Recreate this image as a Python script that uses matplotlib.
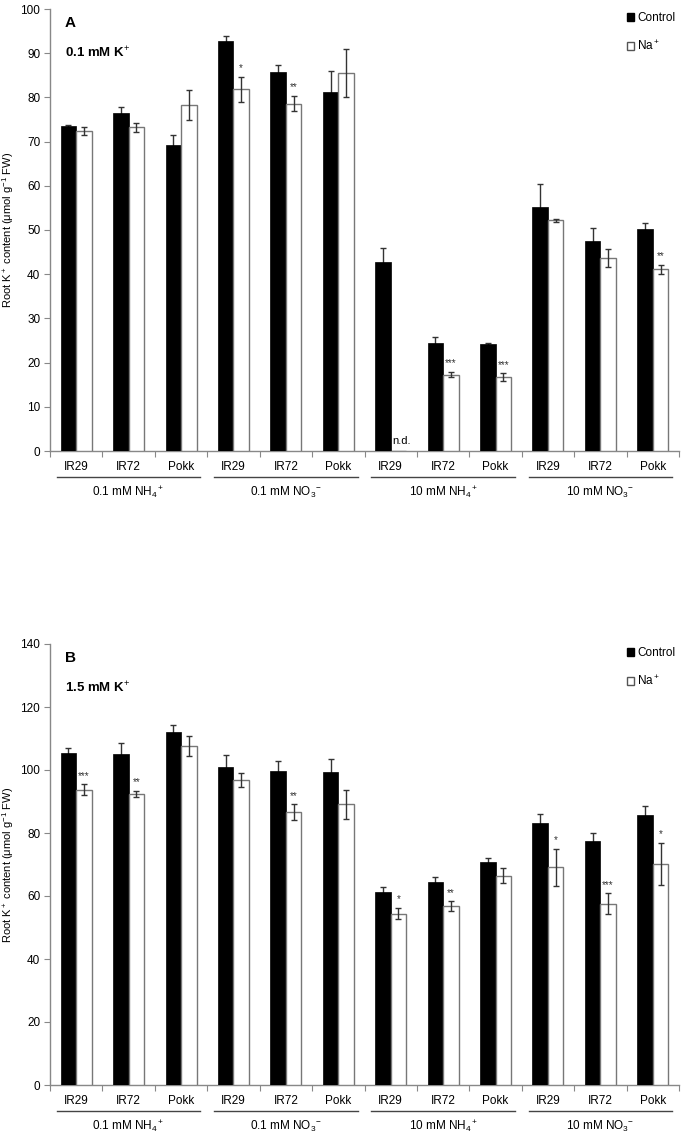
import matplotlib
matplotlib.use('Agg')
import matplotlib.pyplot as plt
import numpy as np
from matplotlib.patches import Patch

plt.rcParams['font.family'] = ['Liberation Sans', 'DejaVu Sans']
plt.rcParams['mathtext.fontset'] = 'custom'
plt.rcParams['mathtext.rm'] = 'Liberation Sans'
plt.rcParams['mathtext.it'] = 'Liberation Sans:italic'
plt.rcParams['mathtext.bf'] = 'Liberation Sans:bold'

# data
cultivars = ['IR29', 'IR72', 'Pokk'] * 4
treatments = ['0.1 mM NH$_4$$^+$', '0.1 mM NO$_3$$^{-}$', '10 mM NH$_4$$^+$', '10 mM NO$_3$$^{-}$']

# panel A: 0.1 mM K+
a_ctrl = [73.5, 76.5, 69.3, 92.8, 85.7, 81.2, 42.8, 24.4, 24.2, 55.3, 47.4, 50.2]
a_ctrl_err = [0.3, 1.4, 2.2, 1.1, 1.6, 4.7, 3.2, 1.4, 0.3, 5.0, 3.0, 1.4]
a_na = [72.3, 73.2, 78.3, 81.8, 78.6, 85.6, 0.0, 17.3, 16.7, 52.2, 43.6, 41.1]
a_na_err = [0.9, 1.0, 3.3, 2.8, 1.7, 5.4, 0.0, 0.6, 0.9, 0.3, 2.0, 1.0]
a_sig = ['', '', '', '*', '**', '', '', '***', '***', '', '', '**']

# panel B: 1.5 mM K+
b_ctrl = [105.3, 105.0, 112.1, 100.9, 99.6, 99.4, 61.4, 64.4, 70.8, 83.3, 77.4, 85.6]
b_ctrl_err = [1.8, 3.5, 2.1, 4.0, 3.2, 4.1, 1.6, 1.5, 1.4, 2.7, 2.7, 3.1]
b_na = [93.7, 92.3, 107.6, 96.9, 86.6, 89.2, 54.4, 56.7, 66.5, 69.1, 57.6, 70.1]
b_na_err = [1.75, 1.0, 3.1, 2.3, 2.5, 4.6, 1.8, 1.6, 2.5, 5.9, 3.3, 6.7]
b_sig = ['***', '**', '', '', '**', '', '*', '**', '', '*', '***', '*']

W, H = 683, 1139
fig = plt.figure(figsize=(W / 100, H / 100), dpi=100)

gray = '#888888'
errc = '#333333'


def draw_panel(rect, ctrl, ctrl_err, na, na_err, sig, ymax, ystep, letter, ktext, nd=None):
    ax = fig.add_axes(rect)
    n = len(ctrl)
    x = np.arange(n) + 0.5
    bw = 0.295
    ax.bar(x - bw / 2, ctrl, bw, color='black', edgecolor='black', linewidth=0.5, zorder=3)
    ax.errorbar(x - bw / 2, ctrl, yerr=ctrl_err, fmt='none', ecolor=errc, elinewidth=1,
                capsize=2.5, capthick=1, zorder=2)
    ax.bar(x + bw / 2, na, bw, color='white', edgecolor='#777777', linewidth=1, zorder=3)
    na_x = [xi + bw / 2 for xi, v in zip(x, na) if v > 0]
    na_v = [v for v in na if v > 0]
    na_e = [e for e, v in zip(na_err, na) if v > 0]
    ax.errorbar(na_x, na_v, yerr=na_e, fmt='none', ecolor=errc, elinewidth=1,
                capsize=2.5, capthick=1, zorder=4)
    for xi, v, e, s in zip(x, na, na_err, sig):
        if s:
            ax.text(xi + bw / 2, v + e + ymax * 0.008, s, ha='center', va='bottom',
                    fontsize=7, color='#333333', zorder=5)
    if nd is not None:
        ax.text(x[nd] + 0.03, ymax * 0.022, 'n.d.', ha='left', va='center', fontsize=8)

    ax.set_xlim(0, n)
    ax.set_ylim(0, ymax)
    ax.set_yticks(np.arange(0, ymax + 1, ystep))
    ax.set_xticks(np.arange(0, n + 1))
    ax.set_xticklabels([])
    ax.tick_params(axis='both', direction='out', length=4, color=gray, labelsize=8.5)
    ax.tick_params(axis='y', pad=3)
    for s in ['top', 'right']:
        ax.spines[s].set_visible(False)
    for s in ['left', 'bottom']:
        ax.spines[s].set_color(gray)
        ax.spines[s].set_linewidth(1)

    hpx = rect[3] * H
    wpx = rect[2] * W
    trans = ax.get_xaxis_transform()
    for xi, lab in zip(x, cultivars):
        ax.text(xi, -16 / hpx, lab, transform=trans, ha='center', va='center', fontsize=8.5)
    for g, lab in enumerate(treatments):
        ax.plot([g * 3 + 0.13, g * 3 + 2.87], [-26 / hpx, -26 / hpx], transform=trans,
                color='#444444', lw=1, clip_on=False)
        ax.text(g * 3 + 1.5, -41 / hpx, lab, transform=trans, ha='center', va='center',
                fontsize=8.5)

    ax.text(15 / wpx, 1 - 14 / hpx, letter, transform=ax.transAxes,
            fontsize=11, fontweight='bold', va='center', ha='left')
    ax.text(15 / wpx, 1 - 44 / hpx, ktext, transform=ax.transAxes,
            fontsize=9.5, fontweight='bold', va='center', ha='left')
    ax.set_ylabel('Root K$^+$ content (\u03bcmol g$^{-1}$ FW)', fontsize=8)
    ax.yaxis.set_label_coords(-34 / wpx, 0.5)

    handles = [Patch(facecolor='black', edgecolor='black', label='Control'),
               Patch(facecolor='white', edgecolor='#555555', label='Na$^+$')]
    ax.legend(handles=handles, loc='upper left', bbox_to_anchor=((622 - 50) / wpx, 1.003),
              bbox_transform=ax.transAxes, frameon=False, fontsize=8.5, handlelength=0.6,
              handleheight=0.6, handletextpad=0.3, labelspacing=1.25, borderaxespad=0)
    return ax


axA = draw_panel([50 / W, 688 / H, 629 / W, 442 / H], a_ctrl, a_ctrl_err, a_na, a_na_err,
                 a_sig, 100, 10, 'A', '0.1 mM K$^{+}$', nd=6)
axB = draw_panel([50 / W, 54 / H, 629 / W, 441 / H], b_ctrl, b_ctrl_err, b_na, b_na_err,
                 b_sig, 140, 20, 'B', '1.5 mM K$^{+}$')

fig.savefig('out.png', dpi=100)
